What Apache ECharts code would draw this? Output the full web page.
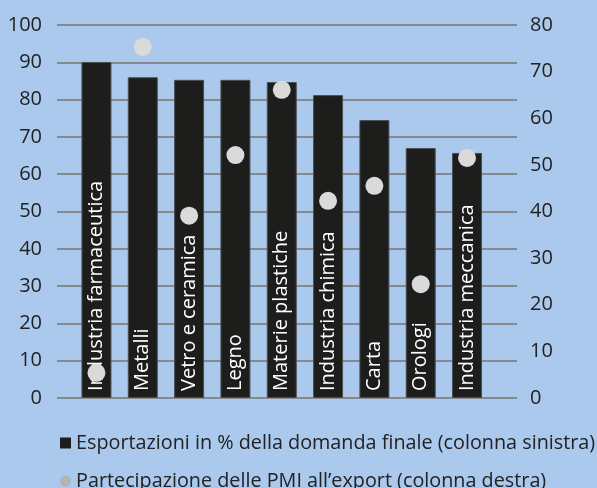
<!DOCTYPE html>
<html>
<head>
<meta charset="utf-8">
<script src="https://cdn.jsdelivr.net/npm/echarts@6/dist/echarts.min.js"></script>
<style>
  html, body { margin: 0; padding: 0; background: #aac9ec; }
  #chart { width: 597px; height: 488px; }
</style>
</head>
<body>
<div id="chart"></div>
<script>
// settori (asse x)
var categories = ['Industria farmaceutica', 'Metalli', 'Vetro e ceramica', 'Legno',
  'Materie plastiche', 'Industria chimica', 'Carta', 'Orologi', 'Industria meccanica'];
// esportazioni in % della domanda finale (colonna sinistra)
var exportShare = [90.1, 86.0, 85.3, 85.3, 84.7, 81.2, 74.5, 67.0, 65.7];
// partecipazione delle PMI all'export (colonna destra)
var smeShare = [5.4, 75.3, 39.1, 52.1, 66.1, 42.3, 45.5, 24.4, 51.5];
var leftTicks = { min: 0, max: 100, interval: 10 };
var rightTicks = { min: 0, max: 80, interval: 10 };
var barName = 'Esportazioni in % della domanda finale (colonna sinistra)';
var dotName = 'Partecipazione delle PMI all\u2019export (colonna destra)';

var font = '"Open Sans", "Noto Sans", sans-serif';
var chart = echarts.init(document.getElementById('chart'));

var legendText = { fontSize: 19.8, color: '#222', fontFamily: font };

chart.setOption({
  backgroundColor: '#aac9ec',
  animation: false,
  textStyle: { fontFamily: font },
  legend: [
    { left: 55, top: 428, itemWidth: 11, itemHeight: 11, itemGap: 0, textStyle: legendText,
      data: [{ name: barName, icon: 'rect', itemStyle: { color: '#1d1d1b', borderWidth: 0 } }] },
    { left: 55, top: 466, itemWidth: 11, itemHeight: 11, itemGap: 0, textStyle: legendText,
      data: [{ name: dotName, icon: 'circle', itemStyle: { color: '#b3b3b3', borderWidth: 0 } }] }
  ],
  grid: [
    // griglia con le linee orizzontali e le scale
    { left: 57, right: 80, top: 25, bottom: 90 },
    // griglia delle barre
    { left: 73.3, right: 106.8, top: 25, bottom: 90 }
  ],
  xAxis: [
    { gridIndex: 0, type: 'value', min: 0, max: 1, show: false },
    { gridIndex: 1, type: 'category', data: categories,
      axisLine: { show: false }, axisTick: { show: false }, axisLabel: { show: false } }
  ],
  yAxis: [
    { gridIndex: 0, type: 'value', min: leftTicks.min, max: leftTicks.max, interval: leftTicks.interval,
      position: 'left',
      axisLine: { show: false }, axisTick: { show: false },
      axisLabel: { fontSize: 20, color: '#222', margin: 15, fontFamily: font },
      splitLine: { lineStyle: { color: '#868a90', width: 2 } } },
    { gridIndex: 0, type: 'value', min: rightTicks.min, max: rightTicks.max, interval: rightTicks.interval,
      position: 'right',
      axisLine: { show: false }, axisTick: { show: false }, splitLine: { show: false },
      axisLabel: { fontSize: 20, color: '#222', margin: 13, fontFamily: font } },
    { gridIndex: 1, type: 'value', min: leftTicks.min, max: leftTicks.max, show: false, splitLine: { show: false } },
    { gridIndex: 1, type: 'value', min: rightTicks.min, max: rightTicks.max, show: false, splitLine: { show: false } }
  ],
  series: [
    {
      name: barName,
      type: 'bar',
      xAxisIndex: 1,
      yAxisIndex: 2,
      data: exportShare,
      barWidth: 30,
      itemStyle: { color: '#1d1d1b', borderColor: '#4a4f57', borderWidth: 1 },
      label: {
        show: true,
        position: 'insideBottom',
        rotate: 90,
        align: 'left',
        verticalAlign: 'middle',
        distance: 7,
        color: '#fff',
        fontSize: 20,
        fontFamily: font,
        formatter: function (p) { return p.name; }
      },
      z: 2
    },
    {
      name: dotName,
      type: 'scatter',
      xAxisIndex: 1,
      yAxisIndex: 3,
      data: smeShare,
      symbol: 'circle',
      symbolSize: 18,
      itemStyle: { color: '#dadada', opacity: 1 },
      z: 3
    }
  ]
});
</script>
</body>
</html>
